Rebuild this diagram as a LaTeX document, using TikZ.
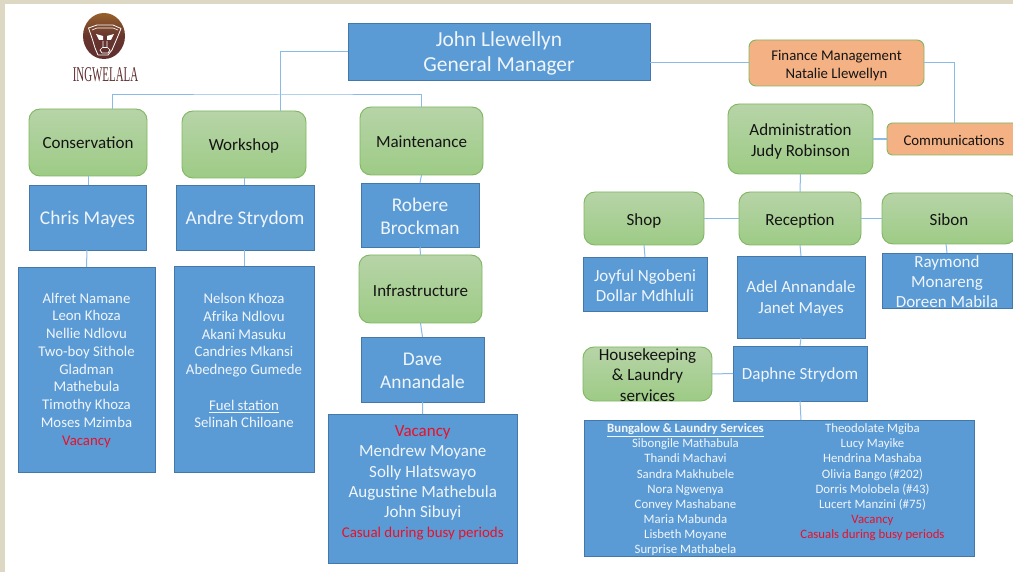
\documentclass[tikz,border=0pt]{standalone}
\usepackage{fontspec}
\usepackage{xcolor}
\setmainfont{Carlito}
\newfontfamily\logofont{Liberation Serif}
\definecolor{pageedge}{HTML}{DDD8C3}
\definecolor{bluefill}{HTML}{5B9BD5}
\definecolor{blueline}{HTML}{4478A8}
\definecolor{greentop}{HTML}{B7D4A8}
\definecolor{greenbot}{HTML}{9DCB85}
\definecolor{greenline}{HTML}{80B660}
\definecolor{orangefill}{HTML}{F4B183}
\definecolor{linkcol}{HTML}{8ABAE6}
\definecolor{redtext}{HTML}{E8102A}
\definecolor{inktext}{HTML}{141414}
\definecolor{lighttext}{HTML}{F0F5FB}
\definecolor{browntop}{HTML}{96602B}
\definecolor{brownbot}{HTML}{5F2E2E}
\newcommand{\fs}[2]{\fontsize{#1}{#2}\selectfont}
\newcommand{\rd}[1]{\textcolor{redtext}{#1}}
\newcommand{\txd}{1.5pt}
% text block centred on the node, never changing the box size
\newcommand{\tx}[1]{\makebox[0pt]{\smash{\raisebox{\dimexpr-0.25em-\txd\relax}{\parbox[c]{400pt}{\centering #1}}}}}
\newcommand{\bx}[7][]{%
  \pgfmathsetmacro{\bxx}{(#3+#5)/2}\pgfmathsetmacro{\bxy}{(#4+#6)/2}%
  \pgfmathsetmacro{\bxw}{#5-#3}\pgfmathsetmacro{\bxh}{#6-#4}%
  \node[#1,minimum width=\bxw pt,minimum height=\bxh pt] (#2) at (\bxx,\bxy) {\tx{#7}};}
\tikzset{
  txdown/.code={\renewcommand{\txd}{#1}},
  base/.style={inner sep=0pt,outer sep=0pt,line width=0.9pt},
  bluebox/.style={base,draw=blueline,fill=bluefill,text=lighttext},
  greenbox/.style={base,draw=greenline,top color=greentop,bottom color=greenbot,rounded corners=11pt,text=inktext,font=\fs{17}{20.5}},
  orangebox/.style={base,draw=greenline,fill=orangefill,rounded corners=7pt,text=inktext,font=\fs{14.8}{18}},
  link/.style={draw=linkcol,line width=1pt},
  thicklink/.style={draw=linkcol,line width=1.7pt},
  ngm/.style={font=\fs{21.4}{25}},
  n18/.style={font=\fs{19.4}{23}},
  n16/.style={font=\fs{17}{20.2}},
  n14/.style={font=\fs{14.8}{17.75}},
  n12/.style={font=\fs{12.8}{15.1}}
}
\begin{document}
\begin{tikzpicture}[x=1pt,y=-1pt]
\path[use as bounding box,clip] (0,0) rectangle (1013,572);
\fill[pageedge] (0,0) rectangle (1013,572);
\fill[white] (5,4) rectangle (1013,572);
% logo
\shade[top color=browntop,bottom color=brownbot,middle color=brownbot!85!browntop] (104,36) ellipse[x radius=21,y radius=23];
\draw[white,line width=0.8pt,line join=round] (88.5,28) -- (97,25) -- (113,25) -- (121,28.5) -- (118,36) -- (115,43) -- (112,50) -- (108,55) -- (98,55) -- (95,48) -- (92,38) -- cycle;
\draw[white,line width=0.6pt,line join=round] (92,30) -- (97,28) -- (113,28) -- (118,30);
\fill[white] (96,34) -- (103,36) -- (103,40) -- (99,40) -- cycle;
\fill[white] (114,34) -- (107,36) -- (107,40) -- (111,40) -- cycle;
\draw[white,line width=0.7pt,line join=round] (103,41) -- (103,47) -- (100,50) -- (102,53) -- (108,53) -- (110,50) -- (107,47) -- (107,41);
\draw[white,line width=0.7pt] (103,47) -- (107,47);
\node[inner sep=0pt,text=brownbot] (logotext) at (105.5,75) {\scalebox{0.52}[1.0]{\logofont\fs{21}{21}INGWELALA}};
% top
\bx[bluebox,ngm]{gm}{348}{23}{650}{80}{John Llewellyn\\General Manager}
\bx[orangebox,txdown=2.3pt]{fin}{749}{40}{924}{86}{Finance Management\\Natalie Llewellyn}
\bx[orangebox,rounded corners=5pt]{comm}{887}{123}{1021}{155}{Communications}
\bx[greenbox,txdown=2.5pt]{admin}{728}{104}{873}{174}{Administration\\Judy Robinson}
% left column
\bx[greenbox,txdown=0.5pt]{cons}{29}{109}{147}{176}{Conservation}
\bx[bluebox,n18,txdown=2.5pt]{chris}{29}{185}{146}{250}{Chris Mayes}
\bx[bluebox,n14,txdown=0.5pt]{alfret}{18}{267}{155}{472}{Alfret Namane\\Leon Khoza\\Nellie Ndlovu\\Two-boy Sithole\\Gladman\\Mathebula\\Timothy Khoza\\Moses Mzimba\\\rd{Vacancy}}
% workshop
\bx[greenbox]{work}{182}{111}{306}{178}{Workshop}
\bx[bluebox,n18,txdown=2.5pt]{andre}{176}{185}{314}{250}{Andre Strydom}
\bx[bluebox,n14,txdown=0.5pt]{nelson}{174}{266}{314}{472}{Nelson Khoza\\Afrika Ndlovu\\Akani Masuku\\Candries Mkansi\\Abednego Gumede\\[17.75pt]\underline{Fuel station}\\Selinah Chiloane\\~}
% maintenance
\bx[greenbox,txdown=0.5pt]{maint}{360}{107}{483}{175}{Maintenance}
\bx[bluebox,n18]{robere}{361}{183}{479}{247}{Robere\\Brockman}
\bx[greenbox]{infra}{359}{255}{482}{323}{Infrastructure}
\bx[bluebox,n18]{dave}{361}{337}{484}{402}{Dave\\Annandale}
\bx[bluebox,n16,txdown=3.5pt]{vac}{328}{414}{517.5}{563}{\rd{Vacancy}\\Mendrew Moyane\\Solly Hlatswayo\\Augustine Mathebula\\John Sibuyi\\\rd{\fs{14.9}{20.2}Casual during busy periods}\\~}
% right block
\bx[greenbox,txdown=2.5pt]{shop}{584}{192}{704}{245}{Shop}
\bx[greenbox,txdown=2.5pt]{recep}{739}{192}{861}{245}{Reception}
\bx[greenbox]{sibon}{882}{193}{1016}{244}{Sibon}
\bx[bluebox,n16]{joy}{583}{257}{707}{311}{Joyful Ngobeni\\Dollar Mdhluli}
\bx[bluebox,n16]{adel}{737}{256}{865}{338}{Adel Annandale\\Janet Mayes}
\bx[bluebox,n16]{ray}{882}{253}{1012}{308}{Raymond\\Monareng\\Doreen Mabila}
\bx[greenbox,txdown=1pt]{house}{583}{347}{712}{401}{Housekeeping\\\&~Laundry\\services}
\bx[bluebox,n16]{daph}{733}{346}{867}{401}{Daphne Strydom}
\bx[bluebox,n12]{bung}{584}{420}{974}{556}{%
\makebox[187pt]{\textbf{\underline{Bungalow \& Laundry Services}}}\makebox[187pt]{Theodolate Mgiba}\\
\makebox[187pt]{Sibongile Mathabula}\makebox[187pt]{Lucy Mayike}\\
\makebox[187pt]{Thandi Machavi}\makebox[187pt]{Hendrina Mashaba}\\
\makebox[187pt]{Sandra Makhubele}\makebox[187pt]{Olivia Bango (\#202)}\\
\makebox[187pt]{Nora Ngwenya}\makebox[187pt]{Dorris Molobela (\#43)}\\
\makebox[187pt]{Convey Mashabane}\makebox[187pt]{Lucert Manzini (\#75)}\\
\makebox[187pt]{Maria Mabunda}\makebox[187pt]{\rd{Vacancy}}\\
\makebox[187pt]{Lisbeth Moyane}\makebox[187pt]{\rd{Casuals during busy periods}}\\
\makebox[187pt]{Surprise Mathabela}\makebox[187pt]{~}}
% connectors
\coordinate (bar) at (280,95);
\draw[link] (gm.west) -| ([xshift=36pt]work.north);
\draw[link] ([xshift=24pt]cons.north) |- (bar) -| (maint.north);
\draw[link] (fin.west -| gm.east) -- (fin.west);
\draw[link] (fin.east) -| (comm.north);
\draw[thicklink] (admin.east) -- (comm.west);
\draw[link] (cons.south) -- ([xshift=0.5pt]chris.north);
\draw[link] (work.south) -- ([xshift=-1pt]andre.north);
\draw[link] ([xshift=-0.5pt]chris.south) -- (alfret.north);
\draw[link] ([xshift=-1pt]andre.south) -- (nelson.north);
\draw[link] (maint.south) -- (robere.north);
\draw[link] (robere.south) -- (infra.north);
\draw[link] (infra.south) -- (dave.north);
\draw[link] (dave.south) -- (vac.north);
\draw[link] (admin.south) -- (recep.north);
\draw[link] (shop.east) -- (recep.west);
\draw[link] (recep.east) -- (sibon.west);
\draw[link] (shop.south) -- (joy.north);
\draw[link] (recep.south) -- (adel.north);
\draw[link] ([xshift=-3pt]sibon.south) -- (ray.north);
\draw[link] (adel.south) -- (daph.north);
\draw[link] (house.east) -- (daph.west);
\draw[link] (daph.south) -- ([xshift=22pt]bung.north);
\end{tikzpicture}
\end{document}
